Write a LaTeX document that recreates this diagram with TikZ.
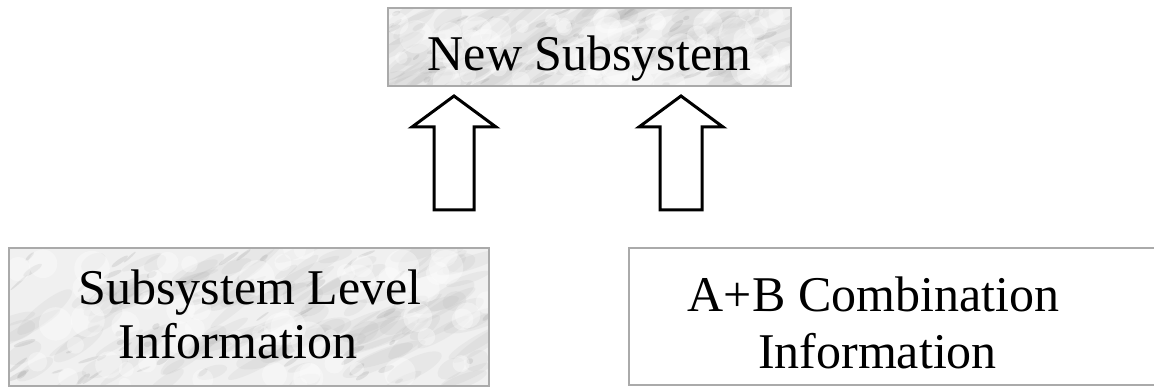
\documentclass[tikz,border=0pt]{standalone}
\usepackage{fontspec}
\setmainfont{Liberation Serif}
\definecolor{framegray}{RGB}{170,170,170}
\definecolor{marblebase}{RGB}{240,240,240}
\definecolor{veindark}{RGB}{110,110,110}
\definecolor{veinsoft}{RGB}{150,150,150}
\tikzset{
  panel/.style={draw=framegray, line width=2.2pt, rectangle, inner sep=0pt},
  label/.style={anchor=base, font=\fontsize{50}{54}\selectfont, text=black, inner sep=0pt},
  blockarrow/.style={draw=black, line width=3pt, fill=white, line join=miter},
}
% marble-like texture inside a rectangle: #1,#2 top-left; #3,#4 bottom-right
\newcommand\marblefill[4]{%
  \begin{scope}
    \clip (#1,#2) rectangle (#3,#4);
    \fill[marblebase] (#1,#2) rectangle (#3,#4);
    % broad soft clouds
    \foreach \k in {1,...,120}{
      \pgfmathsetmacro\px{#1+rnd*(#3-#1)}
      \pgfmathsetmacro\py{#2+rnd*(#4-#2)}
      \pgfmathsetmacro\ang{15+rnd*25}
      \pgfmathsetmacro\rx{12+rnd*30}
      \pgfmathsetmacro\ry{3+rnd*7}
      \fill[veinsoft, opacity=0.09]
        (\px,\py) ellipse [x radius=\rx pt, y radius=\ry pt, rotate=\ang];
    }
    % small darker flecks along the grain
    \foreach \k in {1,...,55}{
      \pgfmathsetmacro\px{#1+rnd*(#3-#1)}
      \pgfmathsetmacro\py{#2+rnd*(#4-#2)}
      \pgfmathsetmacro\ang{15+rnd*30}
      \pgfmathsetmacro\rx{3+rnd*9}
      \pgfmathsetmacro\ry{1+rnd*2}
      \fill[veindark, opacity=0.14]
        (\px,\py) ellipse [x radius=\rx pt, y radius=\ry pt, rotate=\ang];
    }
    % light patches
    \foreach \k in {1,...,60}{
      \pgfmathsetmacro\px{#1+rnd*(#3-#1)}
      \pgfmathsetmacro\py{#2+rnd*(#4-#2)}
      \pgfmathsetmacro\rr{6+rnd*12}
      \fill[white, opacity=0.35] (\px,\py) circle (\rr pt);
    }
  \end{scope}}
\begin{document}
\begin{tikzpicture}[x=1pt, y=-1pt]
  \pgfmathsetseed{1742}
  \useasboundingbox (0,0) rectangle (1154,387);
  \clip (0,0) rectangle (1154,387);

  % top panel
  \marblefill{388}{8}{791}{86}
  \node[panel, minimum width=403pt, minimum height=78pt] (top) at (589.5,47) {};
  \node[label] (toptext) at (589.5,71) {New Subsystem};

  % lower left panel
  \marblefill{9}{248}{489}{386}
  \node[panel, minimum width=480pt, minimum height=138pt] (left) at (249,317) {};
  \node[label] (leftA) at (250,305) {Subsystem Level};
  \node[label] (leftB) at (238,359) {Information};

  % lower right panel (runs past the right edge)
  \node[panel, minimum width=531pt, minimum height=137pt] (right) at (894.5,316.5) {};
  \node[label] (rightA) at (873.5,312) {A+B Combination};
  \node[label] (rightB) at (877.5,368) {Information};

  % hollow block arrows pointing up to the top panel
  \coordinate (tipA) at (454,96);
  \coordinate (tipB) at (681,96);
  \draw[blockarrow] (tipA) -- ++(42,31) -- ++(-22,0) -- ++(0,83) -- ++(-40,0)
    -- ++(0,-83) -- ++(-22,0) -- cycle;
  \draw[blockarrow] (tipB) -- ++(42,31) -- ++(-21,0) -- ++(0,83) -- ++(-42,0)
    -- ++(0,-83) -- ++(-21,0) -- cycle;
\end{tikzpicture}
\end{document}
